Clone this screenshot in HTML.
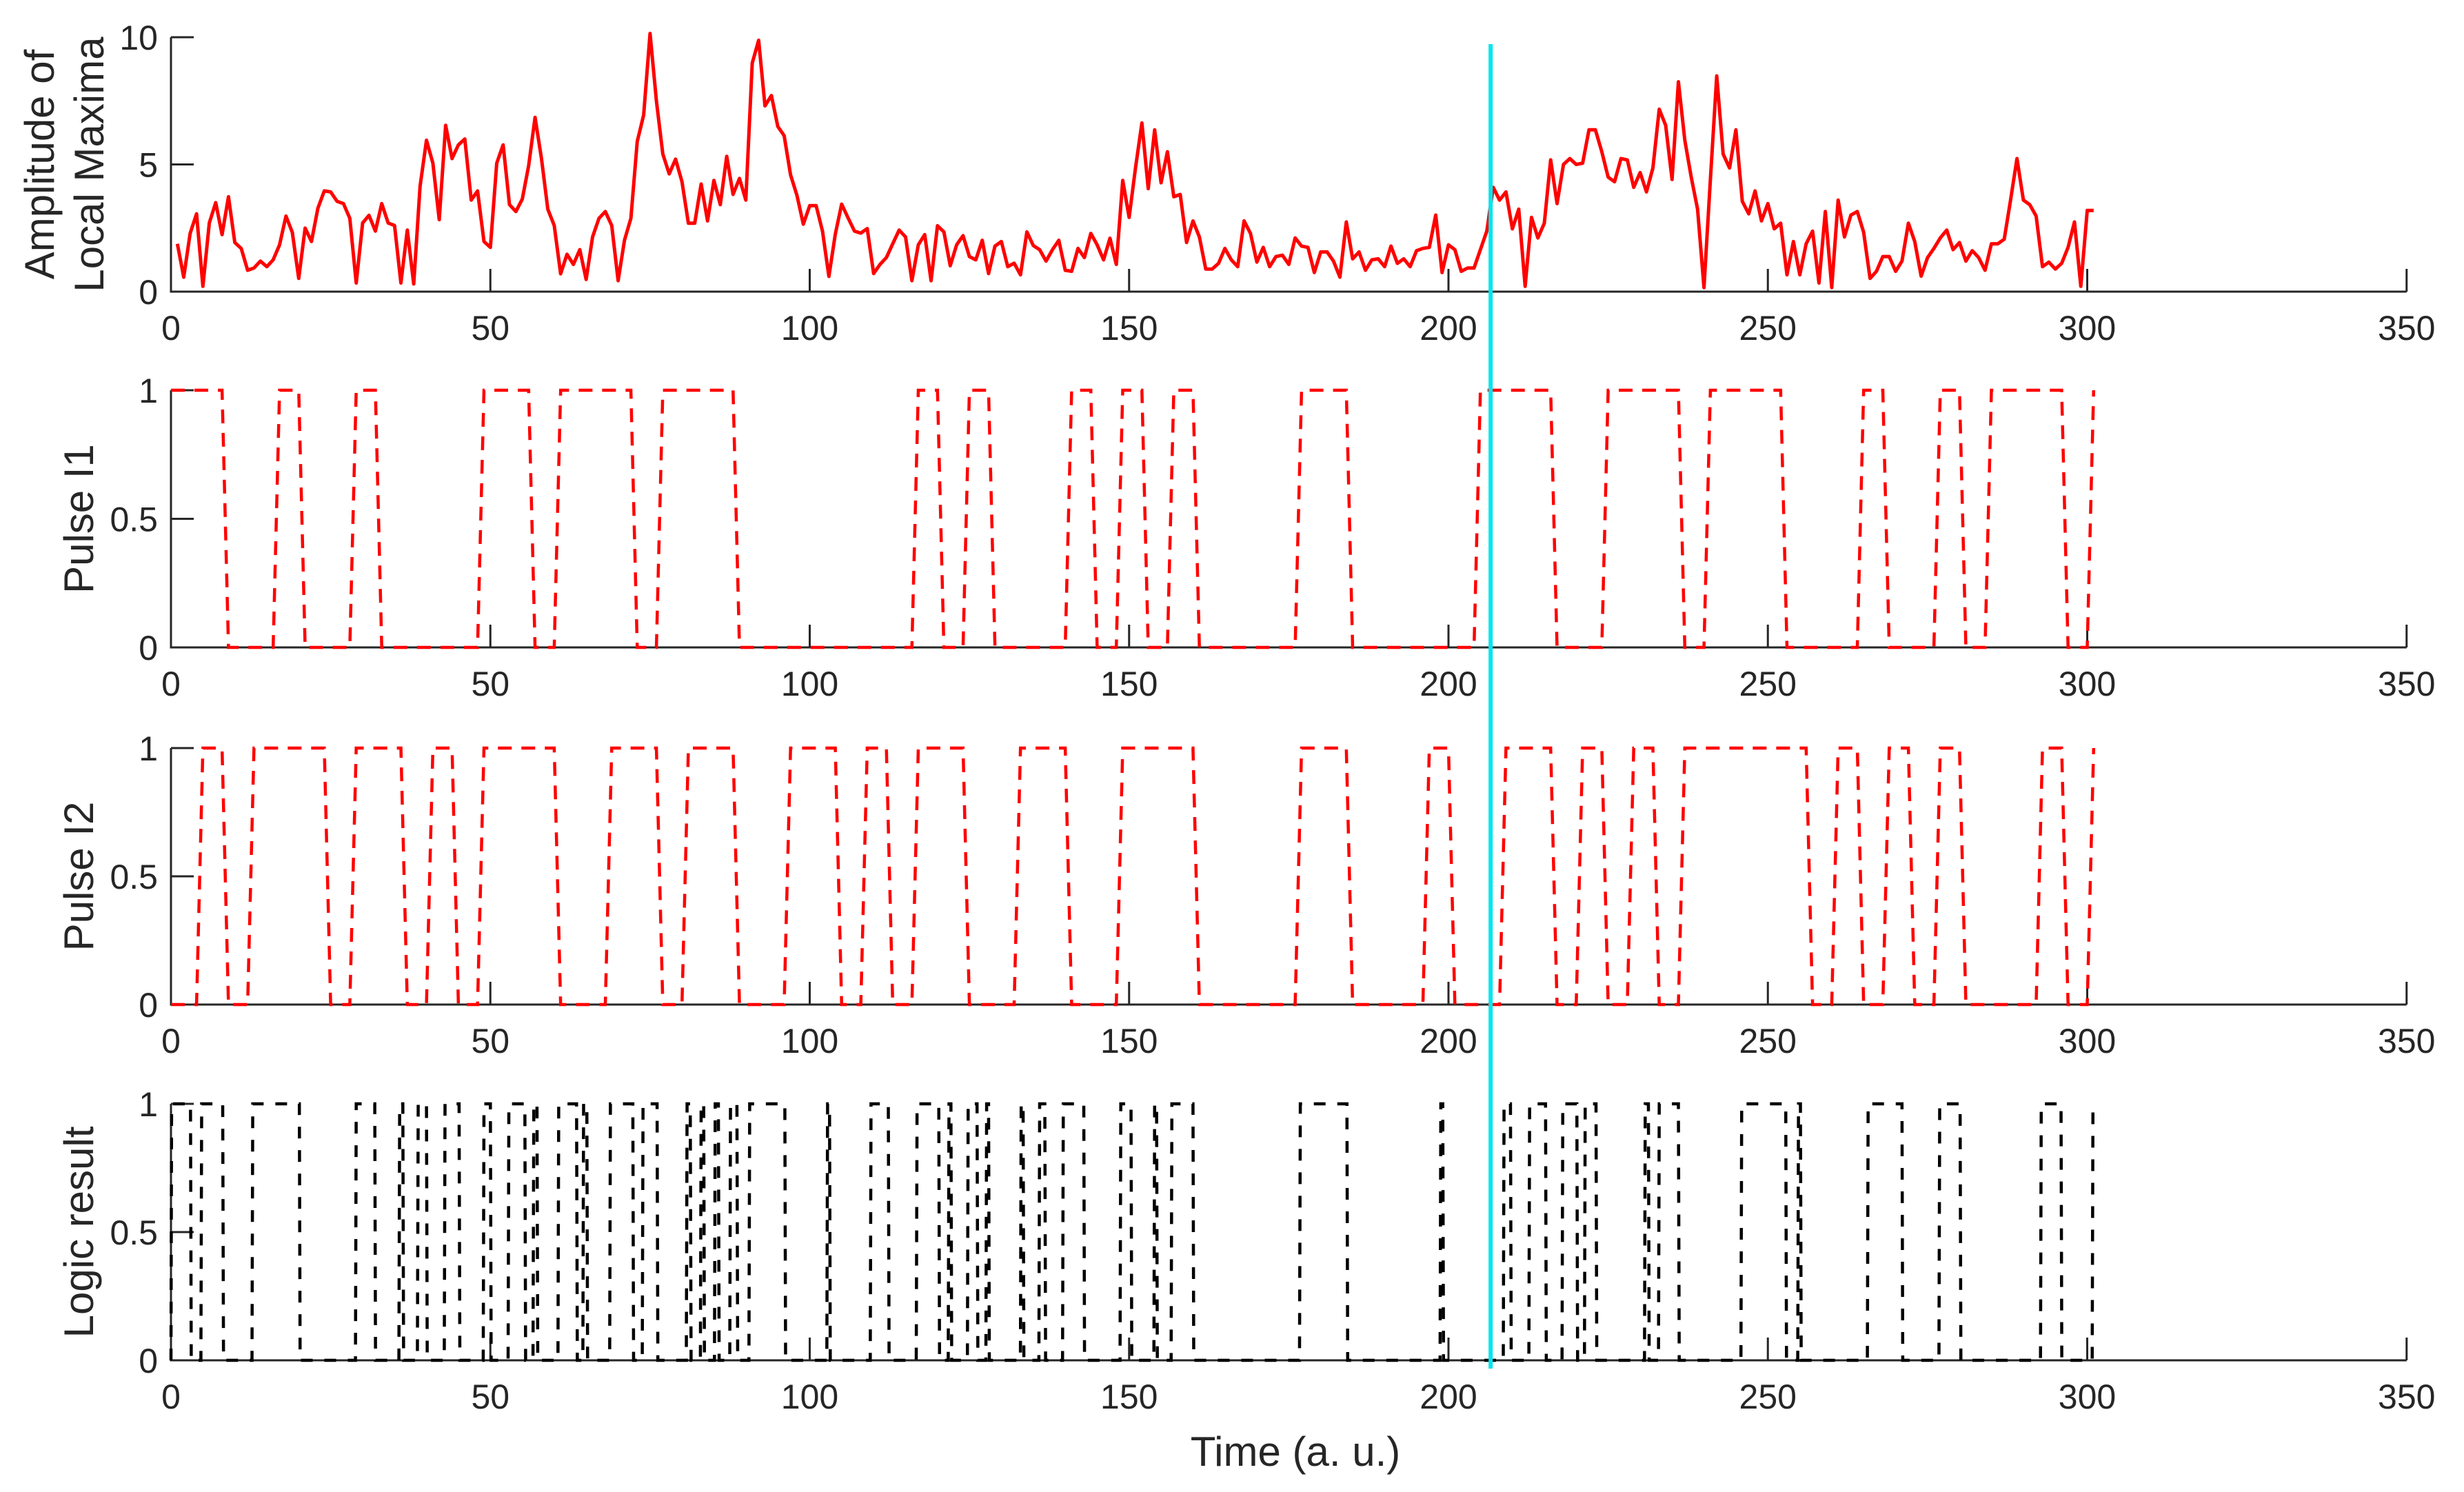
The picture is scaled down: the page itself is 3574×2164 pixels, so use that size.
<!DOCTYPE html>
<html><head><meta charset="utf-8"><style>
html,body{margin:0;padding:0;background:#fff;}
svg{display:block;font-family:"Liberation Sans",Arial,sans-serif;}
</style></head><body>
<svg id="fig" width="3574" height="2164" viewBox="0 0 3574 2164" xmlns="http://www.w3.org/2000/svg"></svg>
<script>
// ---- data ----
const amplitudeValues = [1.88,.57,2.29,3.06,.21,2.7,3.5,2.24,3.73,1.93,1.7,.84,.93,1.2,.98,1.25,1.84,2.97,2.33,.52,2.5,1.97,3.28,3.96,3.92,3.55,3.46,2.88,.34,2.7,3.0,2.38,3.46,2.7,2.6,.34,2.42,.3,4.14,5.95,5.05,2.83,6.54,5.23,5.77,6.0,3.6,3.96,1.97,1.74,5.05,5.77,3.42,3.15,3.64,4.95,6.85,5.23,3.24,2.6,.7,1.47,1.07,1.65,.48,2.15,2.88,3.15,2.6,.43,2.02,2.88,5.9,6.94,10.15,
7.5,
5.41,4.63,5.21,4.32,2.69,2.69,4.23,2.78,4.37,3.42,5.32,3.82,4.45,3.6,8.98,9.88,7.3,7.71,6.49,6.13,4.59,3.78,2.65,3.38,3.38,2.38,.6,2.26,3.44,2.9,2.38,2.3,2.48,.71,1.07,1.34,1.88,2.42,2.15,.43,1.84,2.24,.43,2.59,2.35,1.02,1.84,2.2,1.38,1.25,2.02,.71,1.79,1.97,.98,1.12,.66,2.35,1.81,1.65,1.2,1.65,2.02,.84,.8,1.7,1.34,2.29,1.84,1.25,2.1,1.07,4.37,2.92,4.86,6.63,4.05,
6.36,4.28,5.5,3.73,3.82,1.93,2.78,2.15,.89,.89,1.11,1.7,1.25,.98,2.78,2.29,1.16,1.74,.98,1.38,1.43,1.07,2.11,1.79,1.74,.75,1.56,1.56,1.2,.57,2.74,1.29,1.56,.84,1.25,1.29,.98,1.79,1.11,1.29,.98,1.61,1.7,1.74,3.01,.75,1.84,1.65,.8,.93,.93,1.65,2.38,4.1,3.6,3.92,2.47,3.24,.21,2.92,2.11,2.69,5.18,3.46,5.0,5.23,5.0,5.05,6.36,6.36,5.5,4.5,4.32,5.23,5.18,4.1,4.68,
3.92,4.86,7.17,6.54,4.41,8.25,5.95,4.5,3.24,.16,4.41,8.48,5.41,4.86,6.36,3.55,3.06,3.96,2.78,3.46,2.47,2.69,.66,1.97,.66,1.88,2.38,.34,3.15,.16,3.6,2.15,3.01,3.15,2.33,.52,.8,1.38,1.38,.8,1.2,2.69,1.97,.61,1.34,1.7,2.11,2.42,1.65,1.93,1.2,1.61,1.34,.84,1.88,1.88,2.06,3.6,5.23,3.6,3.42,2.97,.98,1.16,.89,1.11,1.74,2.74,.21,3.19,3.19];
const amplitudeStartTime = 1;
// Pulse I1 / I2 high runs (sample index start, end), samples at t = 0..301
const pulse1Highs = [[0,8],[17,20],[29,32],[49,56],[61,72],[77,88],[117,120],[125,128],[141,144],[149,152],[157,160],[177,184],[205,216],[225,236],[241,252],[265,268],[277,280],[285,296],[301,301]];
const pulse2Highs = [[5,8],[13,24],[29,36],[41,44],[49,60],[69,76],[81,88],[97,104],[109,112],[117,124],[133,140],[149,160],[177,184],[197,200],[209,216],[221,224],[229,232],[237,256],[261,264],[269,272],[277,280],[293,296],[301,301]];
// Logic result high intervals (time)
const logicHighs = [[0.1,3.05],[4.8,8.1],[12.8,20.1],[29,31.9],[35.8,36.3],[38.7,40],[42.9,45.1],[49,50],[52.9,55.4],[56.8,57.3],[60.7,63.5],[64.6,65.1],[68.8,72.3],[73.9,76.1],[80.8,81.3],[83,83.4],[85.2,85.7],[87.6,88.6],[90.6,96.1],[102.8,103.1],[109.6,112.3],[116.8,120.2],[121.8,122.1],[124.8,126.2],[127.7,128],[133.1,133.4],[136,136.8],[139.7,142.9],[148.7,150.3],[154,154.3],[156.7,160],[176.8,184.1],[198.8,199.1],[208.7,209.7],[212.7,215.2],[217.9,220.1],[221.4,223.1],[230.8,231.3],[233,236],[245.9,252.8],[254.8,255.1],[265.7,271],[276.9,280.1],[292.8,295.9],[300.9,301]];
const sampleEnd = 301;
const markerTime = 206.6;
const xTicks = [0,50,100,150,200,250,300,350];
const yTicksAmp = [0,5,10];
const yTicksPulse = [0,0.5,1];

// ---- layout ----
const NS = "http://www.w3.org/2000/svg";
const svg = document.getElementById('fig');
const X0 = 248, XS = 9.265;
const xOf = t => X0 + XS * t;
const panels = [
  {name:'amplitude', top:54, bot:423, max:10, ticks:yTicksAmp},
  {name:'pulse-i1', top:566, bot:939, max:1, ticks:yTicksPulse},
  {name:'pulse-i2', top:1085, bot:1457, max:1, ticks:yTicksPulse},
  {name:'logic', top:1601, bot:1973, max:1, ticks:yTicksPulse}
];
function mk(tag, attrs, parent){
  const e = document.createElementNS(NS, tag);
  for (const k in attrs) e.setAttribute(k, attrs[k]);
  (parent||svg).appendChild(e);
  return e;
}
const yOf = (p, v) => p.bot - (p.bot - p.top) * v / p.max;
const labels = [["Amplitude of","Local Maxima"],["Pulse I1"],["Pulse I2"],["Logic result"]];

panels.forEach((p, i) => {
  const g = mk('g', {});
  
  
  const ax = mk('path', {d:`M${X0},${p.top} V${p.bot} H${xOf(350)}`, fill:'none', stroke:'#262626', 'stroke-width':3}, g);
  
  
  p.ticks.forEach(v => {
    const y = yOf(p, v);
    const tk = mk('line', {x1:X0, x2:X0+33, y1:y, y2:y, stroke:'#262626', 'stroke-width':3}, g);
    
    
    const tl = mk('text', {x:229, y:y+18, 'text-anchor':'end', 'font-size':50, fill:'#262626'}, g);
    tl.textContent = String(v);
    
    
  });
  xTicks.forEach(t => {
    const x = xOf(t);
    const tk = mk('line', {x1:x, x2:x, y1:p.bot, y2:p.bot-33, stroke:'#262626', 'stroke-width':3}, g);
    
    
    const tl = mk('text', {x:x, y:p.bot+70, 'text-anchor':'middle', 'font-size':50, fill:'#262626'}, g);
    tl.textContent = String(t);
    
    
  });
  const cy = (p.top + p.bot) / 2;
  const lines = labels[i];
  lines.forEach((s, k) => {
    const lx = lines.length === 2 ? (k === 0 ? 78 : 150) : 135;
    const tl = mk('text', {x:lx, y:cy, 'text-anchor':'middle', 'font-size':60, fill:'#262626', transform:`rotate(-90 ${lx} ${cy})`}, g);
    tl.textContent = s;
    
    
  });
});

// amplitude series
{
  const p = panels[0];
  const pts = amplitudeValues.map((v, i) => `${xOf(amplitudeStartTime + i).toFixed(1)},${yOf(p, v).toFixed(1)}`);
  const l = mk('polyline', {points:pts.join(' '), fill:'none', stroke:'#ff0000', 'stroke-width':5, 'stroke-linejoin':'round'});
  
  
}
function pulseSamples(highs){
  const s = new Array(sampleEnd + 1).fill(0);
  highs.forEach(([a, b]) => { for (let t = a; t <= b; t++) s[t] = 1; });
  return s;
}
function drawPulse(p, highs, name){
  const s = pulseSamples(highs);
  const pts = s.map((v, t) => `${xOf(t).toFixed(1)},${yOf(p, v).toFixed(1)}`);
  const l = mk('polyline', {points:pts.join(' '), fill:'none', stroke:'#ff0000', 'stroke-width':4.5, 'stroke-dasharray':'20 14'});
  
  
}
drawPulse(panels[1], pulse1Highs, 'pulse-i1-line');
drawPulse(panels[2], pulse2Highs, 'pulse-i2-line');
{
  const p = panels[3];
  const pts = [];
  let prev = 0;
  pts.push([0, 0]);
  logicHighs.forEach(([a, b]) => {
    const ra = Math.max(a, prev + 0.05);
    pts.push([Math.max(ra - 0.12, prev), 0]);
    pts.push([ra, 1]);
    pts.push([b, 1]);
    pts.push([Math.min(b + 0.12, sampleEnd), b >= sampleEnd ? 1 : 0]);
    prev = b + 0.12;
  });
  const l = mk('polyline', {points:pts.map(([t, v]) => `${xOf(t).toFixed(1)},${yOf(p, v).toFixed(1)}`).join(' '), fill:'none', stroke:'#000', 'stroke-width':4.5, 'stroke-dasharray':'17 17'});
  
  
}
// cyan marker
{
  const x = xOf(markerTime);
  const l = mk('line', {x1:x, x2:x, y1:64, y2:1985, stroke:'#00e5ee', 'stroke-width':6});
  
  
}
// x-axis title
{
  const t = mk('text', {x:1879, y:2126, 'text-anchor':'middle', 'font-size':60, fill:'#262626'});
  t.textContent = 'Time (a. u.)';
  
  
}
</script>
</body></html>
